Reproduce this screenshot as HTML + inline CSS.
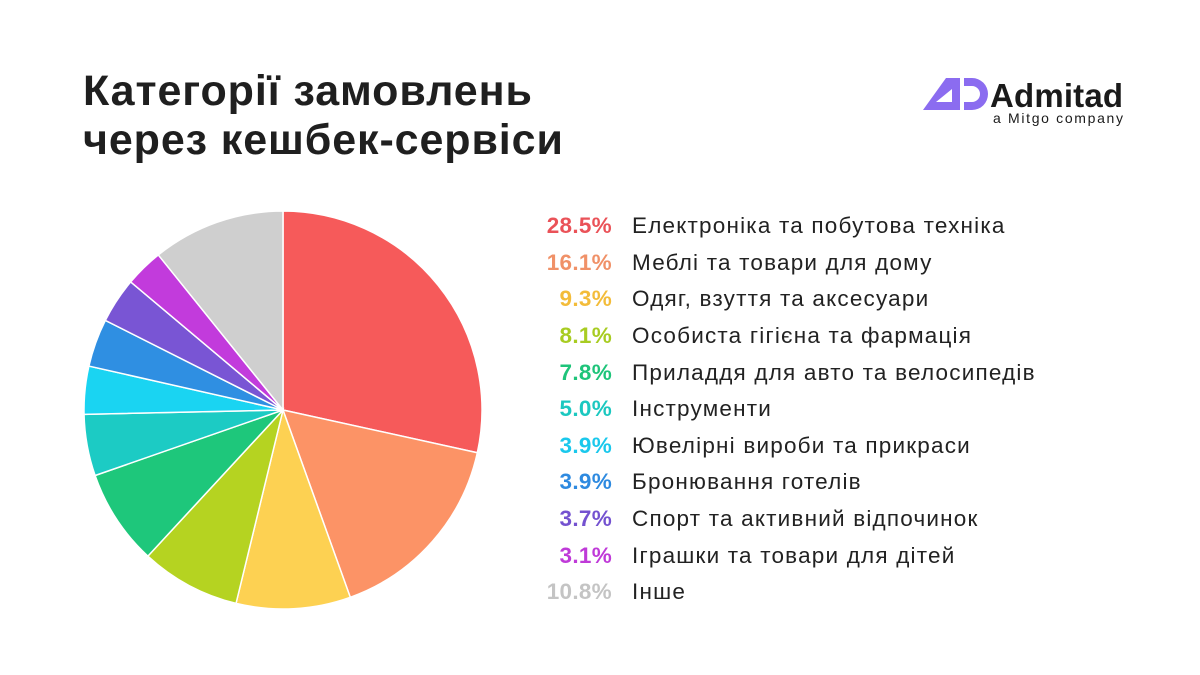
<!DOCTYPE html>
<html><head><meta charset="utf-8"><style>
body{margin:0;width:1200px;height:675px;background:#fff;overflow:hidden;font-family:"Liberation Sans","DejaVu Sans",sans-serif;position:relative}
.t{position:absolute;left:83px;top:67px;font-size:43px;font-weight:bold;color:#1f1f1f;line-height:49px;letter-spacing:0.9px}
.lg{position:absolute;left:520px;top:208px}
.r{height:36.6px;display:flex;align-items:center;font-size:22.5px;color:#222;letter-spacing:1.2px}
.p{width:92px;text-align:right;font-weight:bold;margin-right:20px;letter-spacing:0.3px}
.logo{position:absolute;left:920px;top:70px}
</style></head><body>
<div class="t">Категорії замовлень<br>через кешбек-сервіси</div>
<div class="logo">
<svg width="215" height="60">
<path d="M3 40 L26 8 L40 8 L40 40 Z M16 32 L32 32 L32 19 Z" fill="#8b6cf0" fill-rule="evenodd"/>
<path d="M44 8 L52 8 A16 16 0 0 1 52 40 L44 40 L44 32 L52 32 A8 8 0 0 0 52 16 L44 16 Z" fill="#8b6cf0"/>
<text x="70" y="37" font-size="33" font-weight="bold" fill="#1a1a1a" font-family="Liberation Sans" textLength="133">Admitad</text>
<text x="73" y="53" font-size="14" fill="#1a1a1a" font-family="Liberation Sans" textLength="130">a Mitgo company</text>
</svg></div>
<svg id="pie" width="1200" height="675" style="position:absolute;left:0;top:0"></svg>
<div class="lg">
<div class="r"><span class="p" style="color:#ea5258">28.5%</span>Електроніка та побутова техніка</div>
<div class="r"><span class="p" style="color:#f09168">16.1%</span>Меблі та товари для дому</div>
<div class="r"><span class="p" style="color:#f3bc3a">9.3%</span>Одяг, взуття та аксесуари</div>
<div class="r"><span class="p" style="color:#a8cc22">8.1%</span>Особиста гігієна та фармація</div>
<div class="r"><span class="p" style="color:#1ec47a">7.8%</span>Приладдя для авто та велосипедів</div>
<div class="r"><span class="p" style="color:#1cc8c0">5.0%</span>Інструменти</div>
<div class="r"><span class="p" style="color:#1ac8ec">3.9%</span>Ювелірні вироби та прикраси</div>
<div class="r"><span class="p" style="color:#2e8ae0">3.9%</span>Бронювання готелів</div>
<div class="r"><span class="p" style="color:#7452d0">3.7%</span>Спорт та активний відпочинок</div>
<div class="r"><span class="p" style="color:#bf3ad8">3.1%</span>Іграшки та товари для дітей</div>
<div class="r"><span class="p" style="color:#c4c4c4">10.8%</span>Інше</div>
</div>
<script>
var v=[28.5,16.1,9.3,8.1,7.8,5.0,3.9,3.9,3.7,3.1,10.8];
var c=["#f65a5a","#fc9366","#fdd152","#b5d321","#1ec77b","#1ccbc4","#1ad4f2","#2f8fe2","#7955d4","#c23bdc","#cfcfcf"];
var s=v.reduce((a,b)=>a+b),cx=283,cy=410,R=199,a=-Math.PI/2,h="";
v.forEach(function(x,i){var b=a+x/s*2*Math.PI;
var x1=cx+R*Math.cos(a),y1=cy+R*Math.sin(a),x2=cx+R*Math.cos(b),y2=cy+R*Math.sin(b);
h+='<path d="M'+cx+' '+cy+' L'+x1+' '+y1+' A'+R+' '+R+' 0 '+(b-a>Math.PI?1:0)+' 1 '+x2+' '+y2+' Z" fill="'+c[i]+'" stroke="#fff" stroke-width="1.5"/>';a=b;});
document.getElementById('pie').innerHTML=h;
</script>
</body></html>
